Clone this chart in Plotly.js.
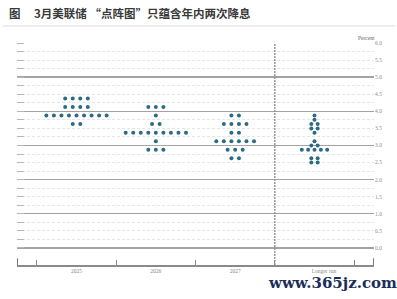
<!DOCTYPE html>
<html><head><meta charset="utf-8">
<script src="https://cdn.plot.ly/plotly-3.0.1.min.js"></script>
<style>html,body{margin:0;padding:0;background:#fff;}#c{width:397px;height:299px;}</style>
</head><body><div id="c"></div>
<script>
// ---- data ----
const categories = ['2025', '2026', '2027', 'Longer run'];
const rates2025 = [4.375, 4.125, 3.875, 3.625];
const counts2025 = [4, 4, 9, 2];
const rates2026 = [4.125, 3.875, 3.625, 3.375, 3.125, 2.875];
const counts2026 = [3, 1, 2, 9, 1, 3];
const rates2027 = [3.875, 3.625, 3.375, 3.125, 2.875, 2.625];
const counts2027 = [2, 4, 2, 6, 3, 2];
const ratesLong = [3.875, 3.75, 3.625, 3.5, 3.375, 3.125, 3.0, 2.875, 2.625, 2.5];
const countsLong = [1, 1, 2, 2, 1, 1, 2, 5, 2, 2];
const yTickVals = [0, 0.5, 1, 1.5, 2, 2.5, 3, 3.5, 4, 4.5, 5, 5.5, 6];
const yTickText = ['0.0','0.5','1.0','1.5','2.0','2.5','3.0','3.5','4.0','4.5','5.0','5.5','6.0'];

const groups = [
  {rates: rates2025, counts: counts2025, spacing: 0.095},
  {rates: rates2026, counts: counts2026, spacing: 0.095},
  {rates: rates2027, counts: counts2027, spacing: 0.095},
  {rates: ratesLong, counts: countsLong, spacing: 0.08}
];
const xs = [], ys = [];
groups.forEach((g, gi) => {
  const center = gi + 0.5;
  g.rates.forEach((r, ri) => {
    const n = g.counts[ri];
    for (let i = 0; i < n; i++) {
      xs.push(center + (i - (n - 1) / 2) * g.spacing);
      ys.push(r);
    }
  });
});

const minorVals = [];
for (let v = 0; v <= 6.0001; v += 0.25) minorVals.push(+v.toFixed(2));

const traces = [
  {type: 'scatter', mode: 'markers', x: xs, y: ys, yaxis: 'y',
   marker: {size: 4, color: '#2c6b86'}, hoverinfo: 'skip', cliponaxis: false},
  {type: 'scatter', mode: 'markers', x: [null], y: [null], yaxis: 'y2', hoverinfo: 'skip'}
];

const layout = {
  width: 397, height: 299,
  margin: {l: 17, r: 23, t: 43, b: 34},
  paper_bgcolor: '#fff', plot_bgcolor: '#fff',
  showlegend: false,
  xaxis: {
    range: [-0.25, 4.25], zeroline: false, showgrid: false,
    tickmode: 'array', tickvals: [0.5, 1.5, 2.5, 3.62], ticktext: categories,
    ticks: '', tickfont: {family: 'Liberation Serif', size: 5.5, color: '#888'},
    showline: true, linecolor: '#8a8a8a', linewidth: 1.5,
    minor: {tickmode: 'array', tickvals: [0, 1, 2, 3, 4], ticks: 'inside', ticklen: 5, tickcolor: '#8a8a8a', tickwidth: 1, showgrid: false},
    fixedrange: true
  },
  yaxis: {
    range: [-0.5, 6.0], side: 'right', zeroline: false, showgrid: false,
    tickmode: 'array', tickvals: yTickVals, ticktext: yTickText, ticks: '',
    tickfont: {family: 'Liberation Serif', size: 5.5, color: '#8c8c8c'},
    fixedrange: true
  },
  yaxis2: {
    range: [-0.5, 6.0], overlaying: 'y', side: 'left', zeroline: false,
    showticklabels: false, tickmode: 'array', tickvals: [0,1,2,3,4,5,6], ticks: '',
    showgrid: true, gridcolor: '#a3a3a3', gridwidth: 1.4,
    minor: {tickmode: 'array', tickvals: minorVals, showgrid: true, gridcolor: '#e6e6e6', griddash: '3px,2px', gridwidth: 1,
            ticks: 'inside', ticklen: 7, tickcolor: '#b8b8b8', tickwidth: 1},
    mirror: 'ticks',
    fixedrange: true
  },
  shapes: [
    {type: 'line', xref: 'x', yref: 'paper', x0: 3, x1: 3, y0: 0, y1: 1, line: {color: '#8a8a8a', width: 1.3, dash: '2px,1px'}},
    {type: 'line', xref: 'x', yref: 'paper', x0: -0.25, x1: -0.25, y0: 0, y1: 0.03, line: {color: '#777', width: 2}},
    {type: 'line', xref: 'x', yref: 'paper', x0: 4.25, x1: 4.25, y0: 0, y1: 0.03, line: {color: '#777', width: 2}},
    {type: 'line', xref: 'paper', yref: 'paper', x0: -0.04, x1: 1.06, y0: 1.077, y1: 1.077, line: {color: '#ececec', width: 2}}
  ],
  annotations: [
    {text: '<b>图</b>', xref: 'paper', yref: 'paper', x: (7 - 17) / 357, y: (265 - 13) / 222, xanchor: 'left', yanchor: 'middle', showarrow: false,
     font: {family: 'Noto Sans CJK SC', size: 11.5, color: '#3a3a3a'}},
    {text: '<b>3月美联储 “点阵图”只蕴含年内两次降息</b>', xref: 'paper', yref: 'paper', x: (32 - 17) / 357, y: (265 - 13) / 222, xanchor: 'left', yanchor: 'middle', showarrow: false,
     font: {family: 'Noto Sans CJK SC', size: 11.5, color: '#3a3a3a'}},
    {text: 'Percent', xref: 'paper', yref: 'paper', x: (377 - 17) / 357, y: (265 - 38) / 222, xanchor: 'right', yanchor: 'middle', showarrow: false,
     font: {family: 'Liberation Serif', size: 5.5, color: '#666'}},
    {text: '<b>www.365jz.com</b>', xref: 'paper', yref: 'paper', x: (332 - 17) / 357, y: (265 - 283) / 222, xanchor: 'center', yanchor: 'middle', showarrow: false,
     font: {family: 'DejaVu Serif', size: 15, color: '#1c2d5c'}}
  ]
};

Plotly.newPlot('c', traces, layout, {displayModeBar: false, staticPlot: true});
</script>
</body></html>
